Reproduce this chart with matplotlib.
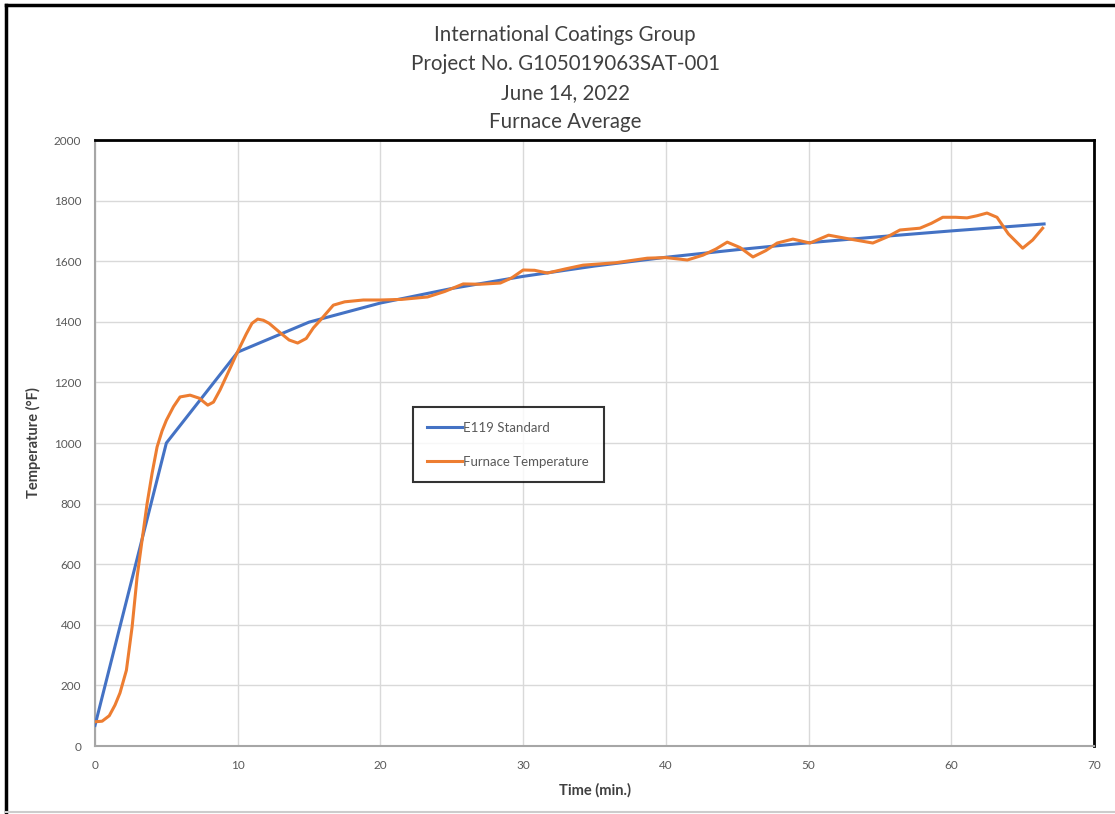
import matplotlib
matplotlib.use('Agg')
import matplotlib.pyplot as plt
from matplotlib.lines import Line2D

# Data
std_time = [0, 5, 10, 15, 20, 25, 30, 35, 40, 45, 50, 55, 60, 66.5]
std_temp = [68, 1000, 1300, 1399, 1462, 1510, 1550, 1584, 1613, 1638, 1661, 1681, 1700, 1723]

furn_time = [0, 0.5, 1.0, 1.4, 1.75, 2.2, 2.6, 2.95, 3.3, 3.65, 4.0, 4.35, 4.7, 5.0, 5.5,
             5.96, 6.66, 7.3, 7.9, 8.3, 8.76, 9.4, 9.95, 10.6, 11.0, 11.4, 11.8, 12.2, 13.0,
             13.6, 14.2, 14.8, 15.3, 15.8, 16.7, 17.5, 18.8, 20.0, 21.5, 23.3, 24.5, 25.8,
             27.0, 28.4, 29.2, 30.0, 30.8, 31.7, 33.0, 34.2, 36.5, 38.7, 40.0, 41.5, 42.6,
             43.5, 44.3, 45.2, 46.1, 47.0, 47.8, 48.9, 50.1, 51.4, 52.9, 54.5, 55.5, 56.4,
             57.8, 58.6, 59.4, 60.3, 61.1, 61.8, 62.5, 63.2, 64.0, 65.0, 65.7, 66.4]
furn_temp = [80, 82, 100, 135, 175, 250, 393, 558, 680, 800, 900, 987, 1040, 1075, 1120,
             1152, 1158, 1148, 1125, 1135, 1175, 1240, 1297, 1360, 1395, 1409, 1405, 1395, 1363,
             1340, 1330, 1345, 1380, 1406, 1455, 1466, 1472, 1472, 1474, 1482, 1500, 1525,
             1524, 1528, 1545, 1571, 1570, 1561, 1575, 1587, 1595, 1610, 1612, 1604, 1620,
             1640, 1663, 1645, 1614, 1635, 1660, 1673, 1660, 1686, 1673, 1660, 1680, 1703,
             1709, 1725, 1745, 1745, 1743, 1750, 1759, 1745, 1690, 1643, 1670, 1709]

title_lines = "International Coatings Group\nProject No. G105019063SAT-001\nJune 14, 2022\nFurnace Average"

fig = plt.figure(figsize=(11.15, 8.14), dpi=100)
ax = fig.add_axes([0.0852, 0.0835, 0.8960, 0.7445])

ax.plot(std_time, std_temp, color='#4472C4', lw=2.2, label='E119 Standard', zorder=3)
ax.plot(furn_time, furn_temp, color='#ED7D31', lw=2.2, label='Furnace Temperature', zorder=4)

ax.set_xlim(0, 70)
ax.set_ylim(0, 2000)
ax.set_xticks(range(0, 71, 10))
ax.set_yticks(range(0, 2001, 200))
ax.grid(True, color='#d9d9d9', lw=1.0)
ax.set_axisbelow(True)
ax.tick_params(length=0, labelsize=8.5, labelcolor='#595959', pad=10)
for lab in ax.get_xticklabels() + ax.get_yticklabels():
    lab.set_family('Lato')

for side in ['left', 'bottom']:
    ax.spines[side].set_color('#a6a6a6')
    ax.spines[side].set_linewidth(1.5)
for side in ['top', 'right']:
    ax.spines[side].set_color('black')
    ax.spines[side].set_linewidth(2.0)

ax.set_xlabel('Time (min.)', fontsize=10.5, fontweight='bold', color='#404040', family='Lato', labelpad=9)
ax.set_ylabel('Temperature (°F)', fontsize=10.5, fontweight='bold', color='#404040', family='Lato', labelpad=9)

leg = ax.legend(loc='upper left', bbox_to_anchor=(0.318, 0.559), frameon=True, fancybox=False,
                edgecolor='black', fontsize=9.5, handlelength=2.6, borderpad=1.1,
                labelspacing=1.65, handletextpad=0.15, borderaxespad=0)
leg.get_frame().set_linewidth(1.5)
for t in leg.get_texts():
    t.set_color('#595959')
    t.set_family('Lato')

fig.text(0.507, 0.969, title_lines, ha='center', va='top', fontsize=14.8, color='#404040',
         family='Lato', linespacing=1.55)

# outer frame of the picture
fig.add_artist(Line2D([0.005, 0.005], [0.0, 0.994], color='black', lw=2.5, transform=fig.transFigure))
fig.add_artist(Line2D([0.005, 1.0], [0.994, 0.994], color='black', lw=2.5, transform=fig.transFigure))
fig.add_artist(Line2D([0.005, 1.0], [0.003, 0.003], color='#cccccc', lw=1.5, transform=fig.transFigure))

fig.savefig('out.png', dpi=100)
